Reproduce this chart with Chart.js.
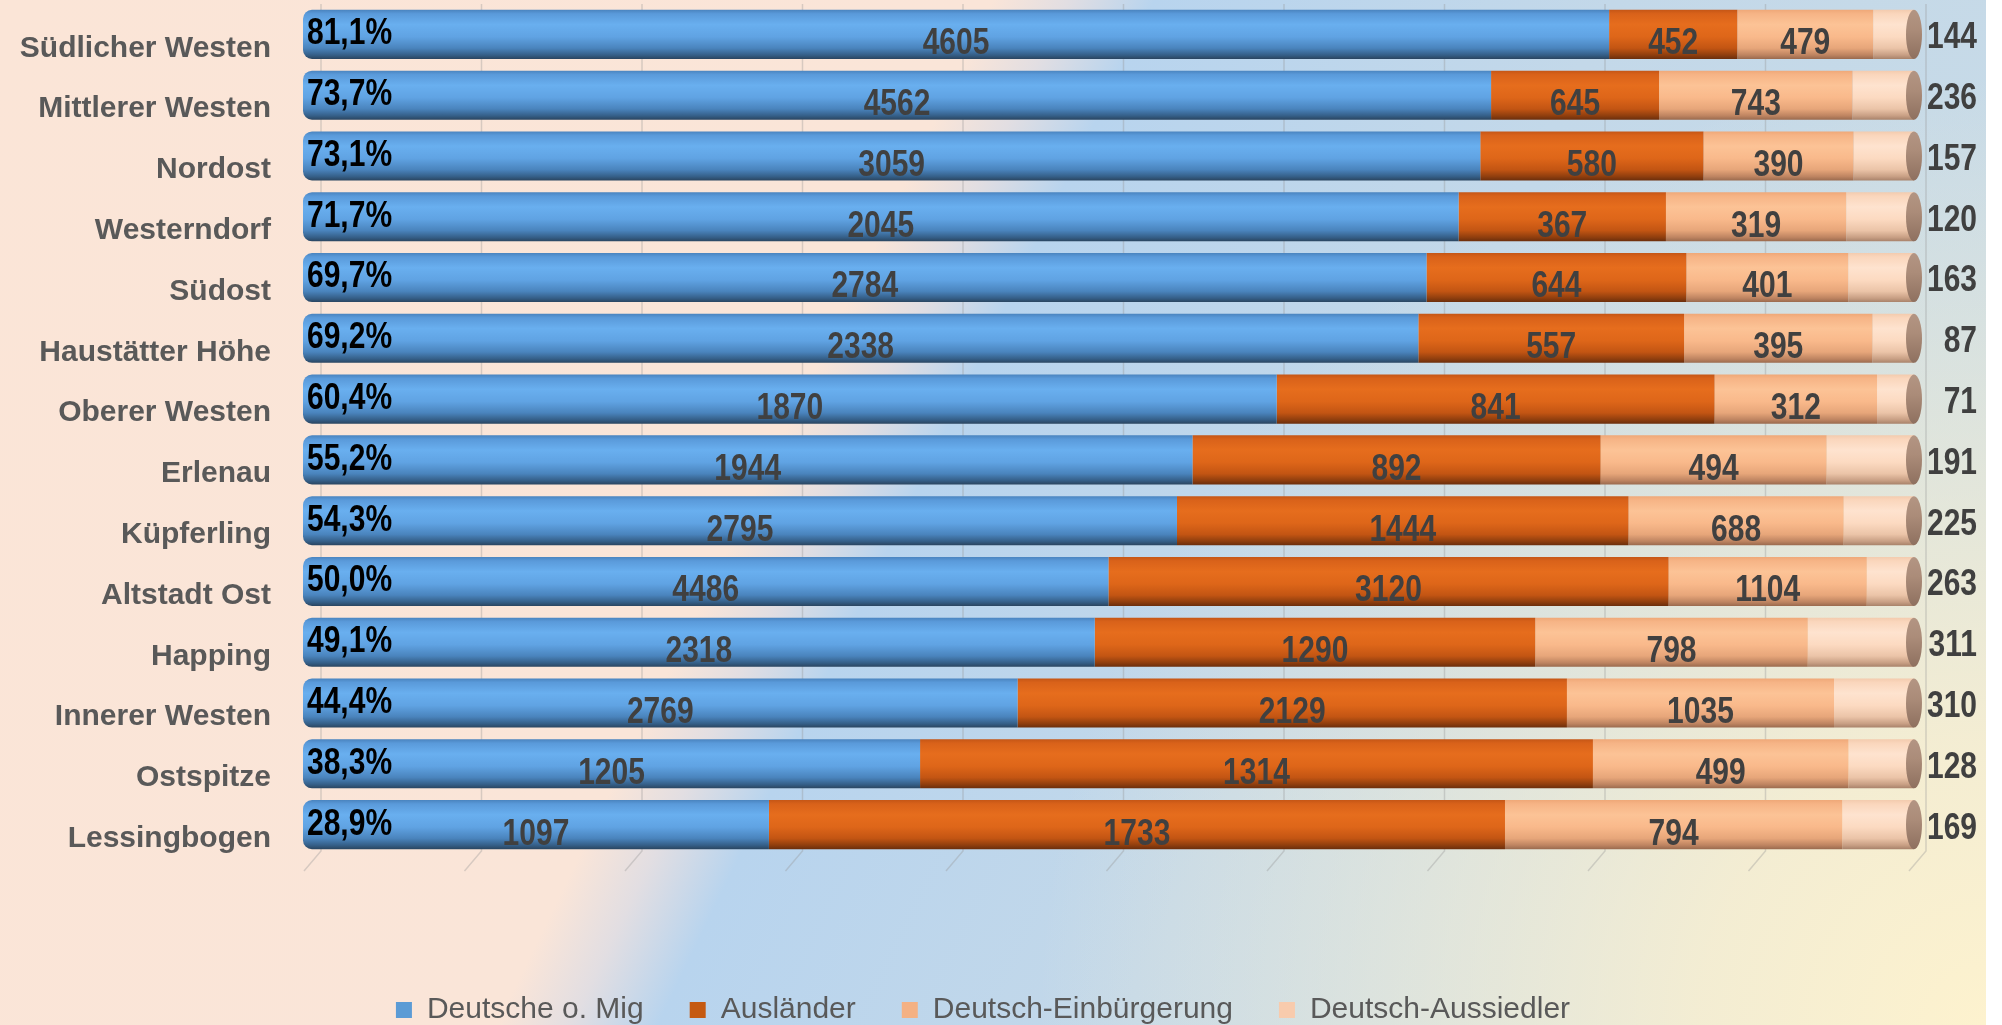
<!DOCTYPE html>
<html>
<head>
<meta charset="utf-8">
<script src="https://cdn.jsdelivr.net/npm/chart.js@4"></script>
<style>
  html, body { margin: 0; padding: 0; background: #ffffff; }
  #wrap { width: 2002px; height: 1025px; }
</style>
</head>
<body>
<div id="wrap"><canvas id="c" width="2002" height="1025"></canvas></div>
<script>
const categories = ['Südlicher Westen', 'Mittlerer Westen', 'Nordost', 'Westerndorf', 'Südost', 'Haustätter Höhe', 'Oberer Westen', 'Erlenau', 'Küpferling', 'Altstadt Ost', 'Happing', 'Innerer Westen', 'Ostspitze', 'Lessingbogen'];
const seriesNames = ['Deutsche o. Mig', 'Ausländer', 'Deutsch-Einbürgerung', 'Deutsch-Aussiedler'];
const deutscheOMig = [4605, 4562, 3059, 2045, 2784, 2338, 1870, 1944, 2795, 4486, 2318, 2769, 1205, 1097];
const auslaender = [452, 645, 580, 367, 644, 557, 841, 892, 1444, 3120, 1290, 2129, 1314, 1733];
const einbuergerung = [479, 743, 390, 319, 401, 395, 312, 494, 688, 1104, 798, 1035, 499, 794];
const aussiedler = [144, 236, 157, 120, 163, 87, 71, 191, 225, 263, 311, 310, 128, 169];
const shareLabels = ['81,1%', '73,7%', '73,1%', '71,7%', '69,7%', '69,2%', '60,4%', '55,2%', '54,3%', '50,0%', '49,1%', '44,4%', '38,3%', '28,9%'];

const seriesValues = [deutscheOMig, auslaender, einbuergerung, aussiedler];
const totals = categories.map((_, i) => seriesValues.reduce((s, arr) => s + arr[i], 0));
const toShare = arr => arr.map((v, i) => v / totals[i] * 100);

const legendColors = ['#5B9BD5', '#C55A11', '#F4B183', '#F8CBAD'];
const gradStops = [
  [[0, '#4A84BF'], [0.08, '#5A9ADA'], [0.3, '#69AFEF'], [0.55, '#60A3E3'], [0.78, '#4A84BD'], [0.92, '#355F88'], [1, '#2A4560']],
  [[0, '#C55616'], [0.08, '#D9621A'], [0.3, '#E66D1D'], [0.55, '#DE6619'], [0.78, '#C35513'], [0.92, '#8F3E0E'], [1, '#6B2E0C']],
  [[0, '#EFA878'], [0.08, '#F6B486'], [0.3, '#FCC396'], [0.55, '#F9B98B'], [0.78, '#E7A67A'], [0.92, '#BE8461'], [1, '#9A6A4E']],
  [[0, '#F3CBAE'], [0.08, '#FAD6BC'], [0.3, '#FEE3CF'], [0.55, '#FCDAC1'], [0.78, '#EBC4A8'], [0.92, '#C89F84'], [1, '#A8826A']]
];
const BAR_PCT = 0.807;
const SANS = '"Liberation Sans", Arial, sans-serif';

function barFill(si) {
  return function(c) {
    const chart = c.chart;
    const ys = chart.scales.y;
    if (c.type !== 'data' || !ys || !chart.chartArea) return legendColors[si];
    const yc = ys.getPixelForValue(c.dataIndex);
    const h = (ys.bottom - ys.top) / categories.length * BAR_PCT;
    const g = chart.ctx.createLinearGradient(0, yc - h / 2, 0, yc + h / 2);
    gradStops[si].forEach(s => g.addColorStop(s[0], s[1]));
    return g;
  };
}

const bgPlugin = {
  id: 'bg',
  beforeDraw(chart) {
    const ctx = chart.ctx;
    const W = 1986, H = chart.height;
    ctx.save();
    ctx.fillStyle = '#ffffff';
    ctx.fillRect(0, 0, chart.width, H);
    const dx = 0.90, dy = 0.436, L = W * dx + H * dy;
    const g = ctx.createLinearGradient(0, 0, L * dx, L * dy);
    g.addColorStop(0, '#FBE5D7');
    g.addColorStop(0.40, '#FAE5D8');
    g.addColorStop(0.43, '#E2DEE2');
    g.addColorStop(0.465, '#B8D4EE');
    g.addColorStop(0.65, '#C3D8E9');
    g.addColorStop(1, '#CADCE6');
    ctx.fillStyle = g;
    ctx.fillRect(0, 0, W, H);
    const r = ctx.createRadialGradient(W, H, 0, W, H, 950);
    r.addColorStop(0, 'rgba(253,242,206,1)');
    r.addColorStop(0.3, 'rgba(251,240,207,0.85)');
    r.addColorStop(1, 'rgba(250,240,210,0)');
    ctx.fillStyle = r;
    ctx.fillRect(0, 0, W, H);
    ctx.restore();
  }
};

const gridPlugin = {
  id: 'grid3d',
  beforeDatasetsDraw(chart) {
    const ctx = chart.ctx, xs = chart.scales.x, area = chart.chartArea;
    ctx.save();
    ctx.strokeStyle = 'rgba(150,150,150,0.35)';
    ctx.lineWidth = 1.5;
    for (let v = 0; v <= 100; v += 10) {
      const bx = xs.getPixelForValue(v) + 18 - 6 * v / 100;
      ctx.beginPath();
      ctx.moveTo(bx, area.top);
      ctx.lineTo(bx, area.bottom - 4);
      ctx.lineTo(bx - 17, area.bottom + 16);
      ctx.stroke();
    }
    ctx.restore();
  }
};

function tallText(ctx, text, x, y) {
  ctx.save();
  ctx.translate(x, y);
  ctx.scale(1, 1.2);
  ctx.fillText(text, 0, 0);
  ctx.restore();
}

const labelPlugin = {
  id: 'barLabels',
  afterDatasetsDraw(chart) {
    const ctx = chart.ctx;
    const metas = [0, 1, 2, 3].map(i => chart.getDatasetMeta(i));
    ctx.save();
    metas[3].data.forEach(el => {
      const h = el.height;
      const g = ctx.createLinearGradient(0, el.y - h / 2, 0, el.y + h / 2);
      g.addColorStop(0, '#B39583');
      g.addColorStop(0.4, '#AB8C79');
      g.addColorStop(1, '#8E705F');
      ctx.fillStyle = g;
      ctx.beginPath();
      ctx.ellipse(el.x, el.y, 8, h / 2, 0, 0, Math.PI * 2);
      ctx.fill();
    });
    ctx.font = 'bold 30px ' + SANS;
    ctx.textBaseline = 'middle';
    for (let s = 0; s < 3; s++) {
      metas[s].data.forEach((el, i) => {
        ctx.fillStyle = '#404040';
        ctx.textAlign = 'center';
        tallText(ctx, String(seriesValues[s][i]), (el.x + el.base) / 2, el.y + 10);
      });
    }
    metas[3].data.forEach((el, i) => {
      ctx.fillStyle = '#404040';
      ctx.textAlign = 'right';
      tallText(ctx, String(seriesValues[3][i]), chart.chartArea.right + 63, el.y + 4);
    });
    metas[0].data.forEach((el, i) => {
      ctx.fillStyle = '#000000';
      ctx.textAlign = 'left';
      tallText(ctx, shareLabels[i], el.base + 4, el.y);
    });
    ctx.restore();
  }
};

const datasets = seriesValues.map((arr, si) => ({
  label: seriesNames[si],
  data: toShare(arr),
  backgroundColor: barFill(si),
  borderWidth: 0,
  borderSkipped: false,
  borderRadius: si === 0 ? {topLeft: 9, bottomLeft: 9, topRight: 0, bottomRight: 0} : 0,
  barPercentage: BAR_PCT,
  categoryPercentage: 1
}));

new Chart(document.getElementById('c'), {
  type: 'bar',
  data: { labels: categories, datasets },
  options: {
    indexAxis: 'y',
    responsive: false,
    devicePixelRatio: 1,
    animation: false,
    layout: { padding: { top: 4, left: 0, right: 36, bottom: -10 } },
    scales: {
      x: {
        stacked: true, min: 0, max: 100,
        grid: { display: false },
        border: { display: false },
        ticks: { display: false },
        afterFit(scale) { scale.height = 94; scale.paddingLeft = 0; scale.paddingRight = 0; }
      },
      y: {
        stacked: true,
        grid: { display: false, drawTicks: false },
        border: { display: false },
        ticks: {
          padding: 32,
          labelOffset: 14,
          color: '#595959',
          font: { family: SANS, weight: 'bold', size: 30 }
        },
        afterFit(scale) { scale.width = 303; scale.paddingTop = 0; scale.paddingBottom = 0; }
      },
      yRight: {
        type: 'category',
        position: 'right',
        grid: { display: false, drawTicks: false },
        border: { display: false },
        ticks: { display: false },
        afterFit(scale) { scale.width = 52; scale.paddingTop = 0; scale.paddingBottom = 0; }
      }
    },
    plugins: {
      tooltip: { enabled: false },
      legend: {
        position: 'bottom',
        labels: {
          boxWidth: 16,
          boxHeight: 16,
          padding: 46,
          color: '#595959',
          font: { family: SANS, size: 30 },
          generateLabels(chart) {
            const items = Chart.defaults.plugins.legend.labels.generateLabels(chart);
            items.forEach((it, i) => {
              it.fillStyle = legendColors[i];
              it.strokeStyle = legendColors[i];
              it.lineWidth = 0;
            });
            return items;
          }
        }
      }
    }
  },
  plugins: [bgPlugin, gridPlugin, labelPlugin]
});
</script>
</body>
</html>
